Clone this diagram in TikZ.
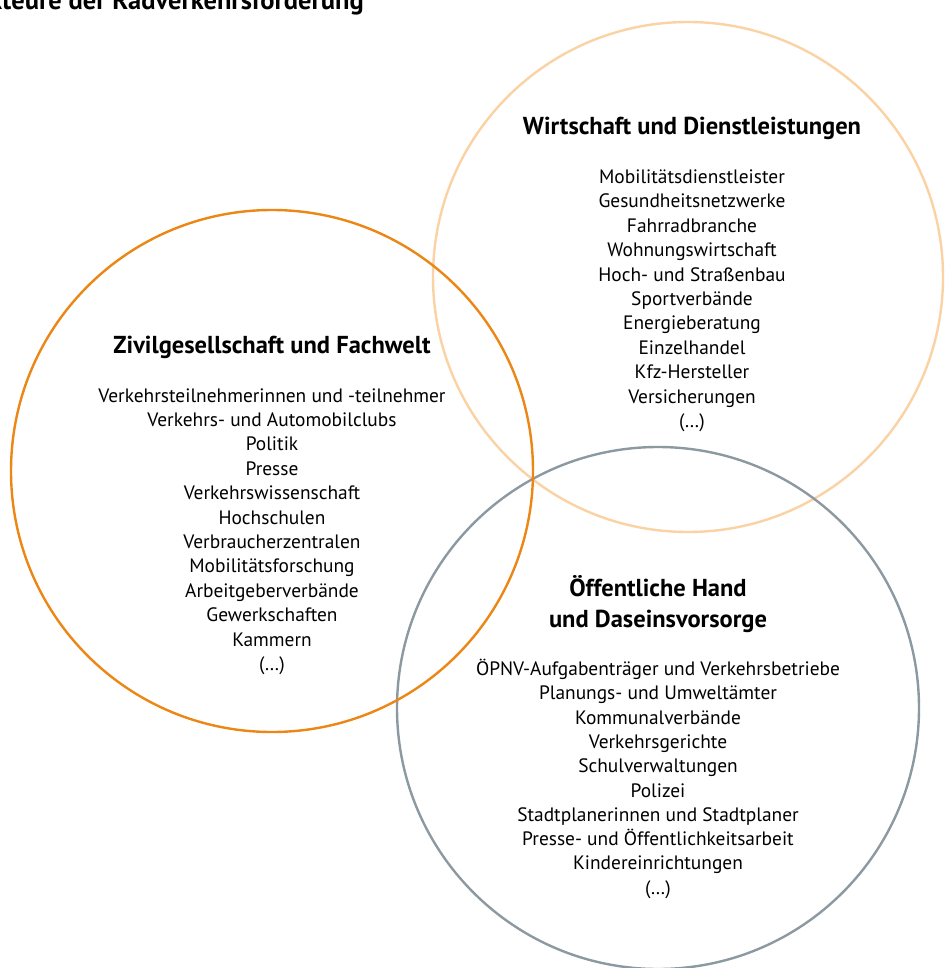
\documentclass[tikz,border=0pt]{standalone}
\usepackage{fontspec}
\setmainfont{PT Sans}
\usetikzlibrary{positioning}
\definecolor{civilorange}{RGB}{236,134,20}
\definecolor{economypeach}{RGB}{250,210,164}
\definecolor{publicgray}{RGB}{140,153,160}

\tikzset{
  ring/.style={line width=2.4pt},
  heading/.style={font=\fontsize{24.5}{31}\selectfont\bfseries, align=center, inner sep=0pt},
  member/.style={font=\fontsize{19.4}{24}\selectfont, anchor=base, inner sep=0pt},
}

\begin{document}
\begin{tikzpicture}[x=1pt,y=-1pt]
    \useasboundingbox (0,0) rectangle (944,968);

    % Title (cut at the top edge)
    \node[font=\fontsize{26.5}{30}\selectfont\bfseries, anchor=base east, inner sep=0pt] (title) at (364,10) {Akteure der Radverkehrsförderung};

    % Circles
    \draw[ring,economypeach] (688,277) circle (255);
    \draw[ring,publicgray] (658,708) circle (261);
    \draw[ring,civilorange] (272,471) circle (261);

    % Zivilgesellschaft und Fachwelt
    \node[heading] (civil) at (272,347) {Zivilgesellschaft und Fachwelt};
    \foreach \t [count=\i] in {Verkehrsteilnehmerinnen und -teilnehmer, Verkehrs- und Automobilclubs,
        Politik, Presse, Verkehrswissenschaft, Hochschulen, Verbraucherzentralen, Mobilitätsforschung,
        Arbeitgeberverbände, Gewerkschaften, Kammern, (…)}
      \node[member] (civil-\i) at (272,{402+24.4*(\i-1)}) {\t};

    % Wirtschaft und Dienstleistungen
    \node[heading] (economy) at (692,128) {Wirtschaft und Dienstleistungen};
    \foreach \t [count=\i] in {Mobilitätsdienstleister, Gesundheitsnetzwerke, Fahrradbranche,
        Wohnungswirtschaft, Hoch- und Straßenbau, Sportverbände, Energieberatung, Einzelhandel,
        Kfz-Hersteller, Versicherungen, (…)}
      \node[member] (economy-\i) at (692,{183.5+24.4*(\i-1)}) {\t};

    % Öffentliche Hand und Daseinsvorsorge
    \node[heading] (public) at (658,604.5) {Öffentliche Hand\\und Daseinsvorsorge};
    \foreach \t [count=\i] in {ÖPNV-Aufgabenträger und Verkehrsbetriebe, Planungs- und Umweltämter,
        Kommunalverbände, Verkehrsgerichte, Schulverwaltungen, Polizei,
        Stadtplanerinnen und Stadtplaner, Presse- und Öffentlichkeitsarbeit, Kindereinrichtungen, (…)}
      \node[member] (public-\i) at (658,{675.5+24.3*(\i-1)}) {\t};
\end{tikzpicture}
\end{document}
